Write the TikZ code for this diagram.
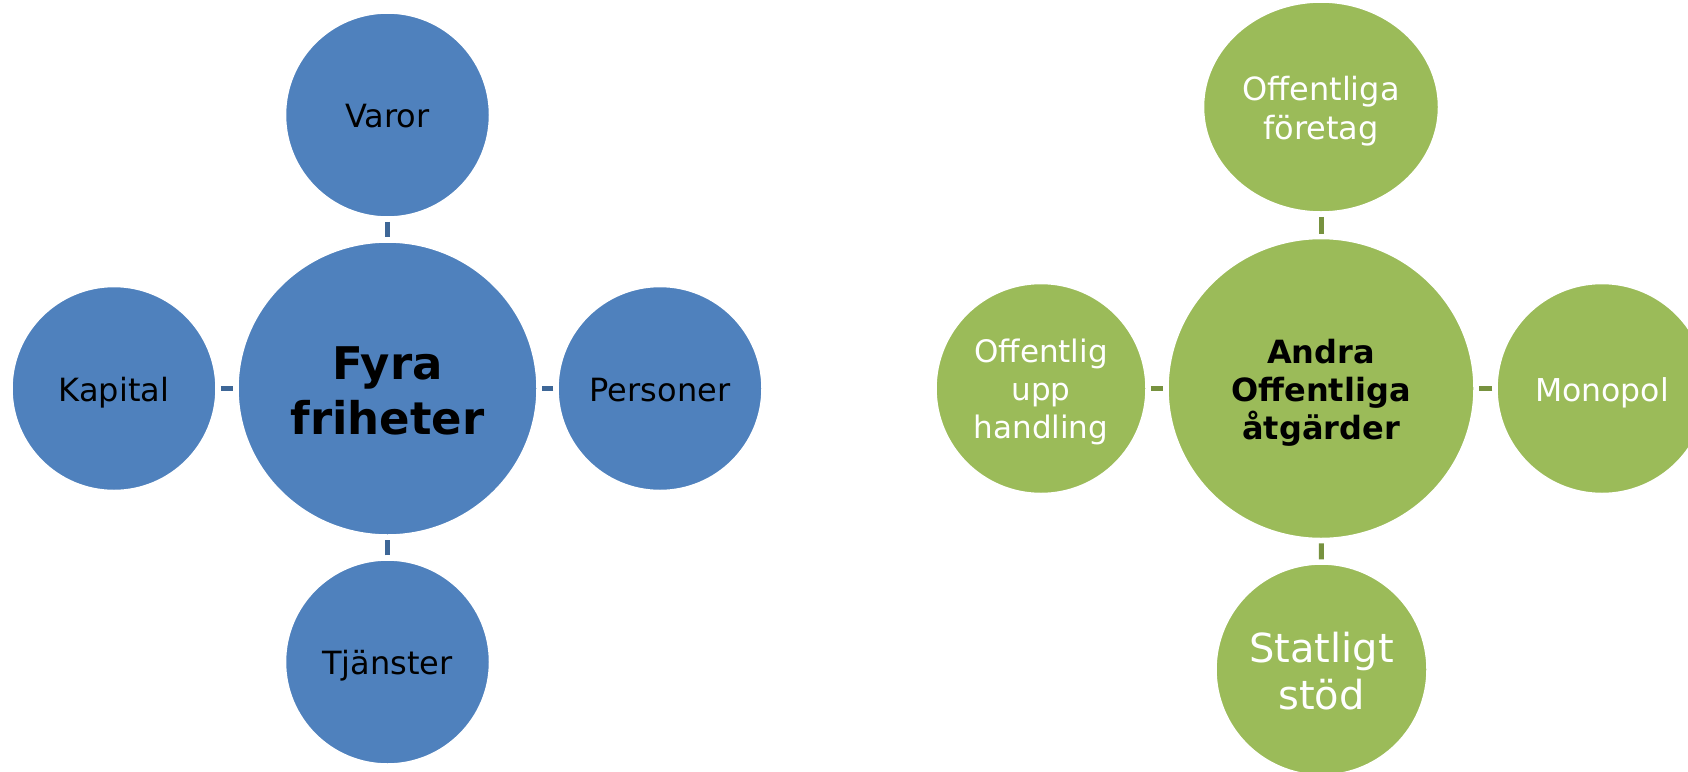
\documentclass[tikz,border=0pt]{standalone}
\usepackage{fontspec}
\setmainfont{DejaVu Sans}
\usetikzlibrary{shapes.geometric}
\definecolor{blueF}{HTML}{4F81BD}
\definecolor{blueL}{HTML}{3E6797}
\definecolor{greenF}{HTML}{9BBB59}
\definecolor{greenL}{HTML}{77923F}
\tikzset{
  bub/.style={circle, inner sep=0pt, draw=white, line width=1.5pt, align=center},
  bubE/.style={ellipse, inner sep=0pt, draw=white, line width=1.5pt, align=center},
  bluebub/.style={fill=blueF, text=black},
  greenbub/.style={fill=greenF, text=white},
  small/.style={font=\fontsize{32}{39}\selectfont, text height=32pt, text depth=6.4pt},
  conn/.style={line width=5pt, shorten >=4pt, shorten <=4pt},
  bconn/.style={conn, draw=blueL},
  gconn/.style={conn, draw=greenL}
}
\begin{document}
\begin{tikzpicture}[x=1pt, y=-1pt]
\clip (0,0) rectangle (1688,771);
\fill[white] (0,0) rectangle (1688,771);
% left diagram
\node[bubE, bluebub, minimum width=299pt, minimum height=293pt,
  font=\bfseries\fontsize{45}{55}\selectfont, text height=100pt, text depth=9pt]
  (fyra) at (387.5,388.5) {Fyra\\friheter};
\node[bub, bluebub, small, minimum size=204pt] (varor) at (387.5,115) {Varor};
\node[bub, bluebub, small, minimum size=204pt] (kapital) at (114,388.5) {Kapital};
\node[bub, bluebub, small, minimum size=204pt] (personer) at (660,388.5) {Personer};
\node[bub, bluebub, small, minimum size=204pt] (tjanster) at (387.5,662) {Tjänster};
\draw[bconn] (varor) -- (fyra);
\draw[bconn] (kapital) -- (fyra);
\draw[bconn] (personer) -- (fyra);
\draw[bconn] (tjanster) -- (fyra);
% right diagram
\node[bubE, fill=greenF, text=black, minimum width=306pt, minimum height=300pt,
  font=\bfseries\fontsize{32}{38}\selectfont, text height=108pt, text depth=6.4pt]
  (andra) at (1321,388.5) {Andra\\Offentliga\\åtgärder};
\node[bubE, greenbub, minimum width=235pt, minimum height=210pt,
  font=\fontsize{32}{39}\selectfont, text height=71pt, text depth=6.4pt]
  (foretag) at (1321,107) {Offentliga\\företag};
\node[bub, greenbub, minimum size=210pt,
  font=\fontsize{31}{38}\selectfont, text height=107pt, text depth=6.2pt]
  (upph) at (1041,388.5) {Offentlig\\upp\\handling};
\node[bub, greenbub, minimum size=210pt,
  font=\fontsize{31.5}{38}\selectfont, text height=31.5pt, text depth=6.3pt]
  (monopol) at (1602,388.5) {Monopol};
\node[bub, greenbub, minimum size=211pt,
  font=\fontsize{40}{47}\selectfont, text height=87pt, text depth=8pt]
  (stod) at (1321.5,669.5) {Statligt\\stöd};
\draw[gconn] (foretag) -- (andra);
\draw[gconn] (upph) -- (andra);
\draw[gconn] (monopol) -- (andra);
\draw[gconn] (stod) -- (andra);
\end{tikzpicture}
\end{document}
